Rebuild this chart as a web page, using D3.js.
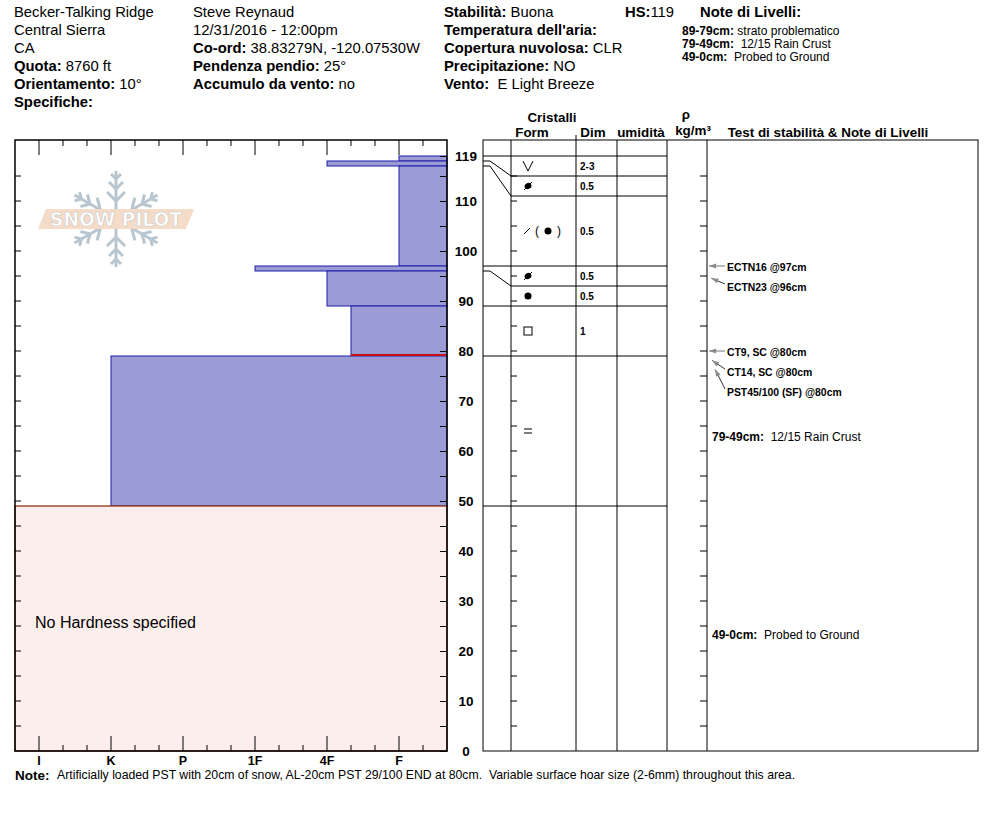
<!DOCTYPE html>
<html>
<head>
<meta charset="utf-8">
<script src="https://cdn.jsdelivr.net/npm/d3@7"></script>
<style>
  body { margin: 0; background: #fff; }
  svg { font-family: "Liberation Sans", Arial, sans-serif; }
  .b { font-weight: bold; }
</style>
</head>
<body>
<div id="chart"></div>
<script>
// layers, top to bottom (cm)
const depthTop = [119, 118, 117, 97, 96, 89, 79, 49];
const depthBottom = [118, 117, 97, 96, 89, 79, 49, 0];
const hardness = ["F", "4F", "F", "1F", "4F", "4F-", "K", ""];
const grainForm = ["SH", "MFcr", "DF(RG)", "MFcr", "RG", "FC", "IFrc", ""];
const grainSize = ["2-3", "0.5", "0.5", "0.5", "0.5", "1", "", ""];
const concernLayer = 5;

const hardnessCodes = ["F-", "F", "F+", "4F-", "4F", "4F+", "1F-", "1F", "1F+", "P-", "P", "P+", "K-", "K", "K+", "I-", "I", "I+"];
const hardnessLabels = ["I", "K", "P", "1F", "4F", "F"];
const depthLabels = [0, 10, 20, 30, 40, 50, 60, 70, 80, 90, 100, 110, 119];
const snowHeight = 119;

const testLabels = ["ECTN16 @97cm", "ECTN23 @96cm", "CT9, SC @80cm", "CT14, SC @80cm", "PST45/100 (SF) @80cm"];
const testDepths = [97, 96, 80, 80, 80];

const noteRanges = ["79-49cm:", "49-0cm:"];
const noteTexts = ["12/15 Rain Crust", "Probed to Ground"];
const noteLayers = [6, 7];

const W = 994, H = 840;
const chart = { left: 15, right: 447, top: 140, bottom: 751 };
const grid = { left: 483, form: 511, dim: 576, wet: 617, rho: 667, test: 707, right: 978 };
const NB = "\u00a0";

const svg = d3.select("#chart").append("svg").attr("width", W).attr("height", H);

const y = d3.scaleLinear().domain([0, 122.2]).range([chart.bottom, chart.top]);
const x = d3.scaleLinear().domain([-1, hardnessCodes.length - 1]).range([chart.right, chart.left]);
const hx = c => x(hardnessCodes.indexOf(c));

// ---------- header ----------
function line(g, px, py, parts, size) {
    const t = g.append("text").attr("x", px).attr("y", py).attr("font-size", size || 14.8);
    parts.forEach(p => t.append("tspan").attr("class", p[1] ? "b" : null).text(p[0]));
}
const head = svg.append("g");
line(head, 14, 17, [["Becker-Talking Ridge"]]);
line(head, 14, 35, [["Central Sierra"]]);
line(head, 14, 53, [["CA"]]);
line(head, 14, 71, [["Quota:", 1], [" 8760 ft"]]);
line(head, 14, 89, [["Orientamento:", 1], [" 10°"]]);
line(head, 14, 107, [["Specifiche:", 1]]);
line(head, 193, 17, [["Steve Reynaud"]]);
line(head, 193, 35, [["12/31/2016 - 12:00pm"]]);
line(head, 193, 53, [["Co-ord:", 1], [" 38.83279N, -120.07530W"]]);
line(head, 193, 71, [["Pendenza pendio:", 1], [" 25°"]]);
line(head, 193, 89, [["Accumulo da vento:", 1], [" no"]]);
line(head, 444, 17, [["Stabilità:", 1], [" Buona"]]);
line(head, 444, 35, [["Temperatura dell'aria:", 1]]);
line(head, 444, 53, [["Copertura nuvolosa:", 1], [" CLR"]]);
line(head, 444, 71, [["Precipitazione:", 1], [" NO"]]);
line(head, 444, 89, [["Vento:", 1], [NB + NB + "E Light Breeze"]]);
line(head, 625, 17, [["HS:", 1], [String(snowHeight)]]);
line(head, 700, 17, [["Note di Livelli:", 1]]);
line(head, 682, 35, [["89-79cm:", 1], [" strato problematico"]], 12);
line(head, 682, 48, [["79-49cm:", 1], [NB + NB + "12/15 Rain Crust"]], 12);
line(head, 682, 61, [["49-0cm:", 1], [NB + NB + "Probed to Ground"]], 12);

// ---------- hardness chart ----------
const hc = svg.append("g");

// logo
const logo = hc.append("g").attr("transform", "translate(116,219)");
const flake = logo.append("g").attr("stroke", "#b9c6cf").attr("stroke-width", 3).attr("fill", "none");
[90, 30, -30, -90, -150, 150].forEach(a => {
    const arm = flake.append("g").attr("transform", `rotate(${-a})`);
    arm.append("line").attr("x1", 0).attr("y1", 0).attr("x2", 48).attr("y2", 0);
    [18, 30, 40].forEach((d, i) => {
        const l = 9 - i * 2;
        arm.append("path").attr("d", `M${d + l},${-l}L${d},0L${d + l},${l}`);
    });
});
logo.append("path").attr("d", "M-70,-10L78,-10L70,10L-78,10Z").attr("fill", "#f4dcc8");
logo.append("text").attr("x", 0).attr("y", 7).attr("text-anchor", "middle")
    .attr("font-size", 19).attr("font-family", "DejaVu Sans").attr("font-weight", "bold")
    .attr("textLength", 132).attr("lengthAdjust", "spacingAndGlyphs")
    .attr("fill", "#fff").attr("stroke", "#c8c8c8").attr("stroke-width", 0.6)
    .text("SNOW PILOT");

// layers
const layers = depthTop.map((t, i) => ({ top: t, bottom: depthBottom[i], hard: hardness[i], i }));
hc.selectAll("rect.layer").data(layers.filter(d => d.hard)).join("rect")
    .attr("class", "layer")
    .attr("x", d => hx(d.hard)).attr("y", d => y(d.top))
    .attr("width", d => chart.right - hx(d.hard)).attr("height", d => y(d.bottom) - y(d.top))
    .attr("fill", "#9b9bd6").attr("stroke", "#1c1ca8").attr("stroke-width", 1);
layers.filter(d => !d.hard).forEach(d => {
    hc.append("rect").attr("x", chart.left).attr("y", y(d.top))
        .attr("width", chart.right - chart.left).attr("height", y(d.bottom) - y(d.top))
        .attr("fill", "#fdeeee").attr("stroke", "#8e3416").attr("stroke-width", 1.3);
    hc.append("text").attr("x", 35).attr("y", 628).attr("font-size", 16).text("No Hardness specified");
});
const cl = layers[concernLayer];
hc.append("line").attr("x1", hx(cl.hard)).attr("x2", chart.right)
    .attr("y1", y(cl.bottom) - 1).attr("y2", y(cl.bottom) - 1)
    .attr("stroke", "#c81010").attr("stroke-width", 2);

// frame
hc.append("rect").attr("x", chart.left).attr("y", chart.top)
    .attr("width", chart.right - chart.left).attr("height", chart.bottom - chart.top)
    .attr("fill", "none").attr("stroke", "#000").attr("stroke-width", 1.5);

// hardness ticks top and bottom
const hTicks = d3.range(0, hardnessCodes.length - 1);
const isMajor = i => hardnessLabels.includes(hardnessCodes[i]);
hc.selectAll("line.ht").data(hTicks).join("line").attr("class", "ht")
    .attr("x1", i => x(i)).attr("x2", i => x(i))
    .attr("y1", chart.top).attr("y2", i => chart.top + (isMajor(i) ? 15 : 6))
    .attr("stroke", "#000");
hc.selectAll("line.hb").data(hTicks).join("line").attr("class", "hb")
    .attr("x1", i => x(i)).attr("x2", i => x(i))
    .attr("y1", chart.bottom).attr("y2", i => chart.bottom - (isMajor(i) ? 15 : 6))
    .attr("stroke", "#000");
hc.selectAll("text.hl").data(hardnessLabels).join("text").attr("class", "hl b")
    .attr("x", d => hx(d)).attr("y", 765).attr("text-anchor", "middle")
    .attr("font-size", 12.5).text(d => d);

// depth ticks
const dTicks = d3.range(5, snowHeight + 1, 5);
hc.selectAll("line.dl").data(dTicks).join("line").attr("class", "dl")
    .attr("x1", chart.left).attr("x2", chart.left + 6)
    .attr("y1", d => y(d)).attr("y2", d => y(d)).attr("stroke", "#000");
const yAxis = d3.axisLeft(y).tickValues(d3.range(0, snowHeight + 1, 5).concat([snowHeight]))
    .tickSize(7).tickFormat(d => depthLabels.includes(d) ? d : "");
const ya = hc.append("g").attr("transform", `translate(${chart.right},0)`).call(yAxis);
ya.select(".domain").remove();
ya.selectAll("text").attr("x", 19).attr("text-anchor", "middle").attr("dy", "0.35em")
    .attr("font-size", 13.5).attr("font-weight", "bold")
    .attr("font-family", "Liberation Sans, Arial, sans-serif").attr("fill", "#000");
ya.selectAll("line").attr("stroke", "#000");

// ---------- crystal grid ----------
const gg = svg.append("g");
// display positions for rows (thin layers expanded to 20px)
const rowMin = 20;
const rows = layers.map(d => {
    let t = y(d.top), b = y(d.bottom);
    const thin = b - t < rowMin;
    if (thin) { const c = (t + b) / 2; t = c - rowMin / 2; b = c + rowMin / 2; }
    return { t, b, thin };
});
rows[0].t = Math.max(rows[0].t, y(snowHeight));
for (let i = 0; i < rows.length; i++) {
    if (i > 0) {
        if (rows[i].thin) { rows[i].t = Math.max(rows[i].t, rows[i - 1].b); rows[i].b = rows[i].t + rowMin; }
        else rows[i].t = rows[i - 1].b;
    }
    if (rows[i].thin && i === 0) rows[i].b = rows[i].t + rowMin;
}
for (let i = 0; i < rows.length - 1; i++) {
    if (rows[i + 1].thin) rows[i].b = rows[i + 1].t;
}
rows[rows.length - 1].b = y(0);

// boundaries
const bounds = [{ real: y(depthTop[0]), disp: rows[0].t }]
    .concat(layers.slice(0, -1).map((d, i) => ({ real: y(d.bottom), disp: rows[i].b })));
bounds.forEach(b => {
    if (Math.abs(b.real - b.disp) < 1.5) {
        gg.append("line").attr("x1", grid.left).attr("x2", grid.rho)
            .attr("y1", b.disp).attr("y2", b.disp).attr("stroke", "#000");
    } else {
        gg.append("path").attr("d", `M${grid.left},${b.real}L${grid.left + 7},${b.real}L${grid.form},${b.disp}L${grid.rho},${b.disp}`)
            .attr("fill", "none").attr("stroke", "#000");
    }
});

// frame & columns
gg.append("rect").attr("x", grid.left).attr("y", chart.top)
    .attr("width", grid.right - grid.left).attr("height", chart.bottom - chart.top)
    .attr("fill", "none").attr("stroke", "#000");
[grid.form, grid.dim, grid.wet, grid.rho, grid.test].forEach(cx => {
    gg.append("line").attr("x1", cx).attr("x2", cx).attr("y1", chart.top).attr("y2", chart.bottom).attr("stroke", "#000");
});
gg.append("line").attr("x1", grid.dim).attr("x2", grid.dim).attr("y1", 135).attr("y2", chart.top).attr("stroke", "#000");
gg.selectAll("line.ft").data(dTicks).join("line").attr("class", "ft")
    .attr("x1", grid.form).attr("x2", grid.form + 6)
    .attr("y1", d => y(d)).attr("y2", d => y(d)).attr("stroke", "#000");
gg.selectAll("line.tt").data(dTicks).join("line").attr("class", "tt")
    .attr("x1", grid.test - 7).attr("x2", grid.test)
    .attr("y1", d => y(d)).attr("y2", d => y(d)).attr("stroke", "#000");

// column headers
const colHead = (t, px, py) => gg.append("text").attr("class", "b").attr("x", px).attr("y", py)
    .attr("text-anchor", "middle").attr("font-size", 13.4).text(t);
colHead("Cristalli", 552, 122);
colHead("Form", 532, 137);
colHead("Dim", 593, 137);
colHead("umidità", 641, 137);
colHead("ρ", 686, 119);
colHead("kg/m³", 693, 135);
colHead("Test di stabilità & Note di Livelli", 828, 137);

// grain symbols
function symbol(g, code, cx, cy) {
    const s = g.append("g").attr("transform", `translate(${cx},${cy})`);
    if (code === "SH") {
        s.append("path").attr("d", "M-5,-5L0,5L5,-5").attr("fill", "none").attr("stroke", "#000");
    } else if (code === "MFcr") {
        s.append("ellipse").attr("rx", 3.5).attr("ry", 3).attr("fill", "#000").attr("transform", "rotate(-30)");
        s.append("line").attr("x1", -4).attr("y1", 4).attr("x2", 4).attr("y2", -4).attr("stroke", "#000");
    } else if (code === "RG") {
        s.append("circle").attr("r", 3.5).attr("fill", "#000");
    } else if (code === "FC") {
        s.append("rect").attr("x", -4).attr("y", -4).attr("width", 8).attr("height", 8)
            .attr("fill", "none").attr("stroke", "#000");
    } else if (code === "IFrc") {
        s.append("path").attr("d", "M-4,-2H4M-4,2H4").attr("stroke", "#000");
    } else if (code === "DF(RG)") {
        s.append("line").attr("x1", -16).attr("y1", 3).attr("x2", -10).attr("y2", -3).attr("stroke", "#000");
        s.append("text").attr("x", -3).attr("y", 4).attr("font-size", 12).attr("text-anchor", "middle").text("(");
        s.append("circle").attr("cx", 8).attr("cy", 0).attr("r", 3.5).attr("fill", "#000");
        s.append("text").attr("x", 19).attr("y", 4).attr("font-size", 12).attr("text-anchor", "middle").text(")");
    }
}
layers.forEach((d, i) => {
    const cy = (rows[i].t + rows[i].b) / 2;
    const fx = grainForm[i] === "DF(RG)" ? 540 : 528;
    symbol(gg, grainForm[i], fx, cy);
    if (grainSize[i]) {
        gg.append("text").attr("class", "b").attr("x", 580).attr("y", cy + 4)
            .attr("font-size", 10).text(grainSize[i]);
    }
});

// stability tests
let prevLab = -100;
const arrowHead = "M0,0L7,-2.5L7,2.5Z";
testLabels.forEach((t, i) => {
    const ty = y(testDepths[i]);
    const ly = Math.max(ty + 1, prevLab + 20);
    prevLab = ly;
    const push = ly - ty;
    const tipX = grid.test + 2 + push * 0.15;
    const tipY = ty + (push > 3 ? push * 0.45 : 0);
    const sx = 725, sy = push > 3 ? ly - 3 : ty;
    gg.append("line").attr("x1", sx).attr("y1", sy).attr("x2", tipX).attr("y2", tipY)
        .attr("stroke", push > 3 ? "#333" : "#777");
    const ang = Math.atan2(sy - tipY, sx - tipX) * 180 / Math.PI;
    gg.append("path").attr("d", arrowHead).attr("fill", "#8a8a8a")
        .attr("transform", `translate(${tipX},${tipY}) rotate(${ang})`);
    gg.append("text").attr("class", "b").attr("x", 727).attr("y", ly + 4)
        .attr("font-size", 10.4).text(t);
});

// layer notes
noteLayers.forEach((li, i) => {
    const cy = (rows[li].t + rows[li].b) / 2;
    line(gg, 712, cy + 10, [[noteRanges[i], 1], [NB + NB + noteTexts[i]]], 12);
});

// bottom note
line(svg, 15, 780, [["Note:", 1]], 13.5);
svg.append("text").attr("x", 57).attr("y", 779).attr("font-size", 12.25)
    .text("Artificially loaded PST with 20cm of snow, AL-20cm PST 29/100 END at 80cm." + NB + NB + "Variable surface hoar size (2-6mm) throughout this area.");
</script>
</body>
</html>
